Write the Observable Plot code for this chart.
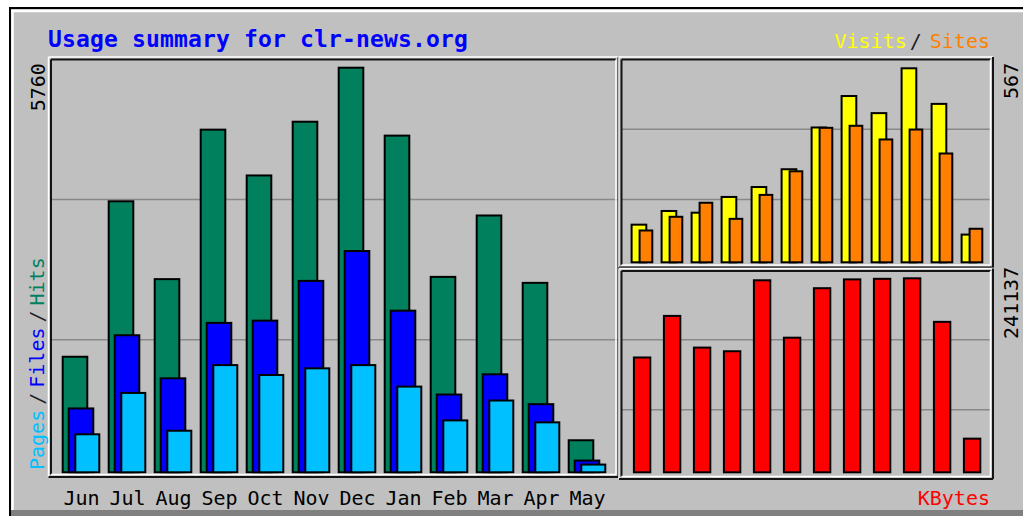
<!DOCTYPE html>
<html><head><meta charset="utf-8">
<script src="https://cdn.jsdelivr.net/npm/d3@7"></script>
<script src="https://cdn.jsdelivr.net/npm/@observablehq/plot@0.6"></script>
<style>
html,body{margin:0;padding:0;background:#fff;}
#chart{position:relative;width:1023px;height:516px;overflow:hidden;font-family:"DejaVu Sans Mono",monospace;}
#chart svg{position:absolute;}
</style></head><body>
<div id="chart"></div>
<script>
// ---- data ----
const months = ["Jun","Jul","Aug","Sep","Oct","Nov","Dec","Jan","Feb","Mar","Apr","May"];
const hits   = [1645, 3858, 2750, 4878, 4226, 4991, 5760, 4793, 2782, 3656, 2697, 456];
const files  = [909, 1951, 1338, 2127, 2159, 2725, 3150, 2301, 1107, 1395, 970, 167];
const pages  = [541, 1130, 592, 1526, 1385, 1480, 1526, 1220, 739, 1022, 711, 110];
const visits = [110, 150, 145, 191, 220, 272, 394, 486, 436, 567, 463, 81];
const sites  = [93, 133, 174, 127, 197, 266, 393, 399, 359, 388, 318, 98];
const kbytes = [142714, 194386, 155017, 150465, 238676, 167320, 228834, 239800, 240500, 241137, 187004, 41830];
const gridHits = [1893, 3891];
const gridVisits = [185, 390];
const gridKBytes = [78308, 165316];
const title = "Usage summary for clr-news.org";

const rows = months.map((m, i) => ({month: m, hits: hits[i], files: files[i], pages: pages[i],
  visits: visits[i], sites: sites[i], kbytes: kbytes[i]}));

const C = {hits: "#00805c", files: "#0000ff", pages: "#00c0ff", visits: "#ffff00", sites: "#ff8000", kbytes: "#ff0000"};
const FONT = "DejaVu Sans Mono";
const chart = document.getElementById("chart");
const W = 1023, H = 516;

// ---- background ----
const bg = d3.select(chart).append("svg").attr("width", W).attr("height", H).style("left", "0px").style("top", "0px");
bg.append("rect").attr("x", 11).attr("y", 9).attr("width", W).attr("height", H).attr("fill", "#c0c0c0");
bg.append("rect").attr("x", 11).attr("y", 510).attr("width", W).attr("height", 10).attr("fill", "#808080");
const ln = (g, x1, y1, x2, y2, c, w) => g.append("line").attr("x1", x1).attr("y1", y1).attr("x2", x2).attr("y2", y2).attr("stroke", c).attr("stroke-width", w);
ln(bg, 9, 8, W, 8, "#000", 2);
ln(bg, 10, 7, 10, H, "#000", 2);
ln(bg, 11, 11, W, 11, "#fff", 2.5);
ln(bg, 12.5, 10, 12.5, 510, "#fff", 2.5);

const style = {background: "transparent", overflow: "visible", fontFamily: FONT, fontSize: "20px", color: "#000"};
function place(svg, left, top) {
  svg.style.position = "absolute"; svg.style.left = left + "px"; svg.style.top = top + "px";
  svg.style.maxWidth = "none";
  chart.appendChild(svg);
}
const barStyle = {stroke: "#000", strokeWidth: 2};

// ---- left panel: hits / files / pages ----
const leftPlot = Plot.plot({
  width: 620, height: 516,
  marginLeft: 50, marginRight: 2, marginTop: 58, marginBottom: 40,
  style,
  x: {type: "band", domain: months, range: [58, 610.5], padding: 0, label: null},
  y: {domain: [0, d3.max(hits)], range: [472.3, 67.7], axis: null},
  marks: [
    Plot.ruleY(gridHits, {stroke: "#888", strokeWidth: 1.5}),
    Plot.barY(rows, {x: "month", y: "hits", fill: C.hits, ...barStyle, insetLeft: 4.7, insetRight: 16.7}),
    Plot.barY(rows, {x: "month", y: "files", fill: C.files, ...barStyle, insetLeft: 10.7, insetRight: 10.7}),
    Plot.barY(rows, {x: "month", y: "pages", fill: C.pages, ...barStyle, insetLeft: 17.3, insetRight: 4.7}),
    Plot.axisX({tickSize: 0, tickPadding: 14, fontSize: 20, fill: "#000", label: null}),
    Plot.text([d3.max(hits)], {y: d => d, frameAnchor: "left", text: d => String(d), rotate: -90,
      textAnchor: "end", dx: -12, dy: -5, fontSize: 20, fill: "#000"})
  ]
});
place(leftPlot, 0, 0);

// ---- top right panel: visits / sites ----
const trPlot = Plot.plot({
  width: 403, height: 268,
  marginLeft: 1, marginRight: 33, marginTop: 59, marginBottom: 2,
  style,
  x: {type: "band", domain: months, range: [6.4, 367.1], padding: 0, axis: null},
  y: {domain: [0, d3.max(visits)], range: [262.3, 68.3], axis: null},
  marks: [
    Plot.ruleY(gridVisits, {stroke: "#888", strokeWidth: 1.5}),
    Plot.barY(rows, {x: "month", y: "visits", fill: C.visits, ...barStyle, insetLeft: 4.6, insetRight: 10.7}),
    Plot.barY(rows, {x: "month", y: "sites", fill: C.sites, ...barStyle, insetLeft: 12.6, insetRight: 4.7}),
    Plot.text([d3.max(visits)], {y: d => d, frameAnchor: "right", text: d => String(d), rotate: -90,
      textAnchor: "end", dx: 21, dy: -6, fontSize: 20, fill: "#000"})
  ]
});
place(trPlot, 620, 0);

// ---- bottom right panel: kbytes ----
const brPlot = Plot.plot({
  width: 403, height: 248,
  marginLeft: 1, marginRight: 33, marginTop: 2, marginBottom: 38,
  style,
  x: {type: "band", domain: months, range: [6.4, 367.1], padding: 0, axis: null},
  y: {domain: [0, d3.max(kbytes)], range: [204.3, 10.3], axis: null},
  marks: [
    Plot.ruleY(gridKBytes, {stroke: "#888", strokeWidth: 1.5}),
    Plot.barY(rows, {x: "month", y: "kbytes", fill: C.kbytes, ...barStyle, insetLeft: 6.9, insetRight: 6.7}),
    Plot.text([d3.max(kbytes)], {y: d => d, frameAnchor: "right", text: d => String(d), rotate: -90,
      textAnchor: "end", dx: 21, dy: -12, fontSize: 20, fill: "#000"})
  ]
});
place(brPlot, 620, 268);

// ---- overlay: panel bevels and legends ----
const ov = d3.select(chart).append("svg").attr("width", W).attr("height", H).style("left", "0px").style("top", "0px")
  .style("pointer-events", "none");
function bevel(x1, y1, x2, y2) {
  const dark = "#141414", light = "#fff";
  ln(ov, x1 - 2.5, y1 - 2.5, x2 + 2.5, y1 - 2.5, light, 1.5);
  ln(ov, x1 - 2.5, y1 - 2.5, x1 - 2.5, y2 + 2.5, light, 1.5);
  ln(ov, x1, y1, x2, y1, dark, 2);
  ln(ov, x1, y1, x1, y2, dark, 2);
  ln(ov, x1, y2, x2, y2, light, 1.5);
  ln(ov, x2, y1, x2, y2, light, 1.5);
  ln(ov, x1 - 2.5, y2 + 2.5, x2 + 2.5, y2 + 2.5, dark, 2);
  ln(ov, x2 + 2.5, y1 - 2.5, x2 + 2.5, y2 + 2.5, dark, 2);
}
bevel(51, 59.5, 616, 474.5);
bevel(621.5, 59.5, 990.5, 265);
bevel(621.5, 271, 990.5, 476.5);

ov.append("text").attr("x", 48).attr("y", 47).attr("font-family", FONT).attr("font-weight", "bold")
  .attr("font-size", 23).attr("letter-spacing", 0.15).attr("fill", "#0000ff").text(title);

const vs = ov.append("text").attr("x", 990).attr("y", 48).attr("text-anchor", "end")
  .attr("font-family", FONT).attr("font-size", 20);
vs.append("tspan").attr("fill", C.visits).text("Visits");
vs.append("tspan").attr("dx", 3).attr("fill", "#222").text("/");
vs.append("tspan").attr("dx", 8).attr("fill", C.sites).text("Sites");

ov.append("text").attr("x", 990).attr("y", 505).attr("text-anchor", "end")
  .attr("font-family", FONT).attr("font-size", 20).attr("fill", C.kbytes).text("KBytes");

const pf = ov.append("text").attr("transform", "translate(44,470) rotate(-90)")
  .attr("font-family", FONT).attr("font-size", 20);
pf.append("tspan").attr("fill", C.pages).text("Pages");
pf.append("tspan").attr("dx", 5).attr("fill", "#222").text("/");
pf.append("tspan").attr("dx", 5).attr("fill", C.files).text("Files");
pf.append("tspan").attr("dx", 5).attr("fill", "#222").text("/");
pf.append("tspan").attr("dx", 5).attr("fill", C.hits).text("Hits");
</script>
</body></html>
